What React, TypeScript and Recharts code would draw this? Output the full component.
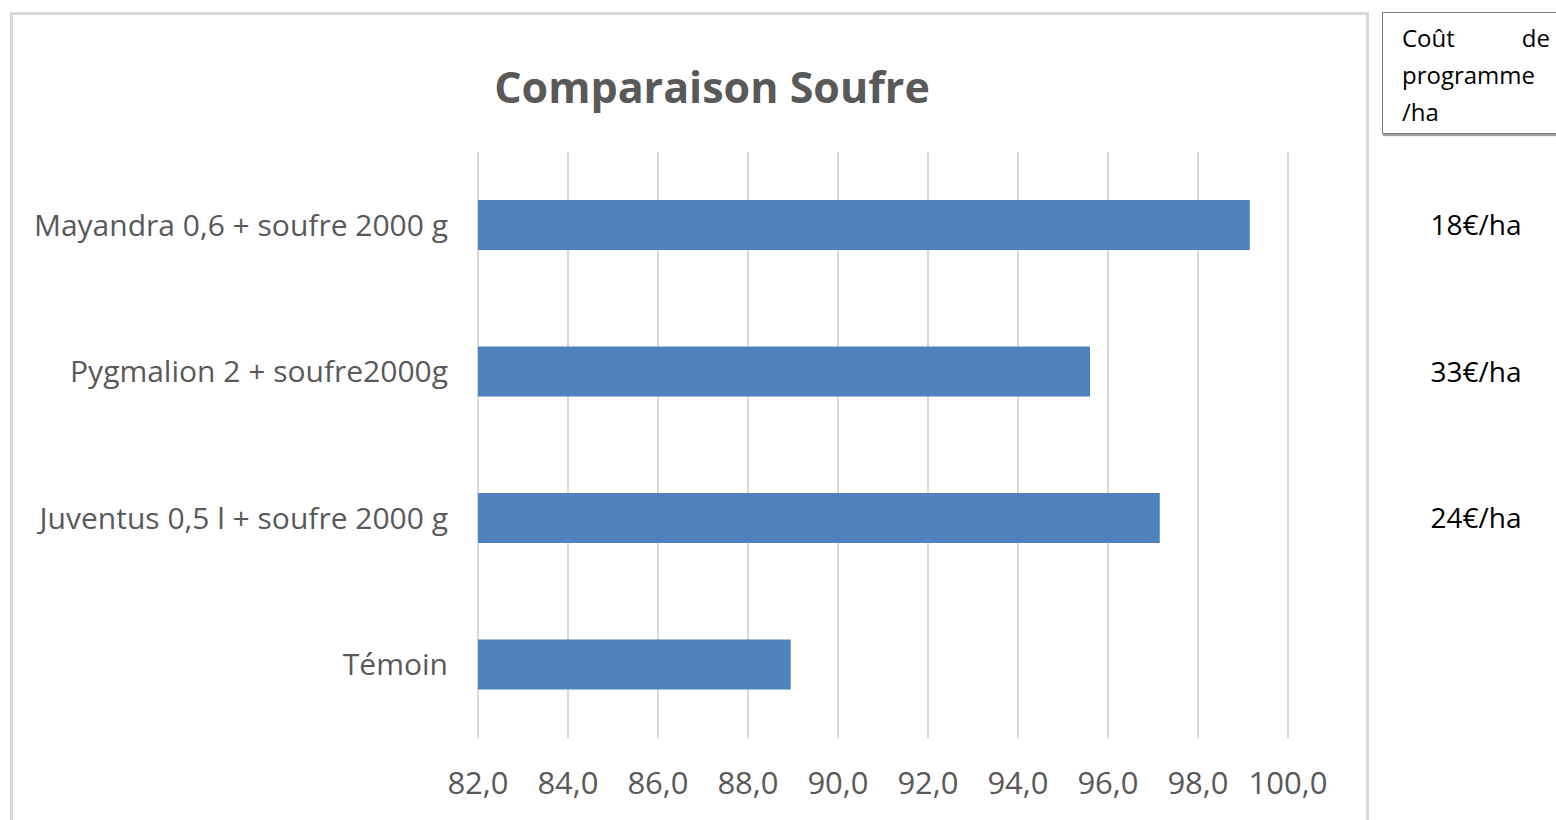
import React from "react";
import { BarChart, Bar, XAxis, YAxis, CartesianGrid } from "recharts";

const categories = [
  "Mayandra 0,6 + soufre 2000 g",
  "Pygmalion 2 + soufre2000g",
  "Juventus 0,5 l + soufre 2000 g",
  "Témoin",
];
const values = [99.15, 95.6, 97.15, 88.95];
const costs = ["18€/ha", "33€/ha", "24€/ha", ""];
const xTicks = [82, 84, 86, 88, 90, 92, 94, 96, 98, 100];
const title = "Comparaison Soufre";
const boxLines = ["Coût", "de", "programme", "/ha"];

const data = categories.map((c, i) => ({ name: c, value: values[i], cost: costs[i] }));

const FONT = "'Open Sans', 'Noto Sans', sans-serif";
const GREY = "#595959";

const CostTick = (props: any) => {
  const { x, y, payload } = props;
  return (
    <text x={x + 186} y={y} dy="0.35em" textAnchor="middle" fill="#000" fontSize={28} fontFamily={FONT}>
      {payload.value}
    </text>
  );
};

export default function App() {
  return (
    <div style={{ position: "absolute", left: 0, top: 0, width: 1556, height: 820, background: "#fff", overflow: "hidden" }}>
      <div style={{ position: "absolute", left: 10, top: 12, width: 1359, height: 830, border: "3px solid #d9d9d9", boxSizing: "border-box" }} />
      <div
        style={{
          position: "absolute",
          left: 0,
          top: 57,
          width: 1424,
          textAlign: "center",
          fontFamily: FONT,
          fontWeight: 700,
          fontSize: 43,
          color: GREY,
          lineHeight: "60px",
        }}
      >
        {title}
      </div>
      <div
        style={{
          position: "absolute",
          left: 1382,
          top: 12,
          width: 190,
          height: 122,
          border: "1.5px solid #7f7f7f",
          boxShadow: "1px 2px 1px #a0a0a0",
          boxSizing: "border-box",
          fontFamily: FONT,
          fontSize: 24,
          color: "#000",
          paddingLeft: 19,
          paddingTop: 6,
          lineHeight: "37px",
        }}
      >
        <div style={{ display: "flex", justifyContent: "space-between", width: 148 }}>
          <span>{boxLines[0]}</span>
          <span>{boxLines[1]}</span>
        </div>
        <div>{boxLines[2]}</div>
        <div>{boxLines[3]}</div>
      </div>
      <div style={{ position: "absolute", left: 0, top: 0 }}>
        <BarChart
          width={1556}
          height={820}
          data={data}
          layout="vertical"
          margin={{ top: 152, right: 0, left: 0, bottom: 22 }}
        >
          <CartesianGrid horizontal={false} stroke="#d9d9d9" strokeWidth={2} />
          <XAxis
            type="number"
            domain={[82, 100]}
            ticks={xTicks}
            tickFormatter={(v: number) => v.toFixed(1).replace(".", ",")}
            axisLine={false}
            tickLine={false}
            tickSize={0}
            tickMargin={34}
            height={60}
            interval={0}
            tick={{ fill: GREY, fontSize: 31, fontFamily: FONT }}
          />
          <YAxis
            yAxisId="left"
            type="category"
            dataKey="name"
            width={478}
            axisLine={false}
            tickLine={false}
            tickSize={0}
            tickMargin={30}
            interval={0}
            tick={{ fill: GREY, fontSize: 30, fontFamily: FONT }}
          />
          <YAxis
            yAxisId="right"
            orientation="right"
            type="category"
            dataKey="cost"
            width={268}
            axisLine={false}
            tickLine={false}
            tickSize={0}
            interval={0}
            tick={<CostTick />}
          />
          <Bar yAxisId="left" dataKey="value" fill="#4f81bd" barSize={50} isAnimationActive={false} />
        </BarChart>
      </div>
    </div>
  );
}
